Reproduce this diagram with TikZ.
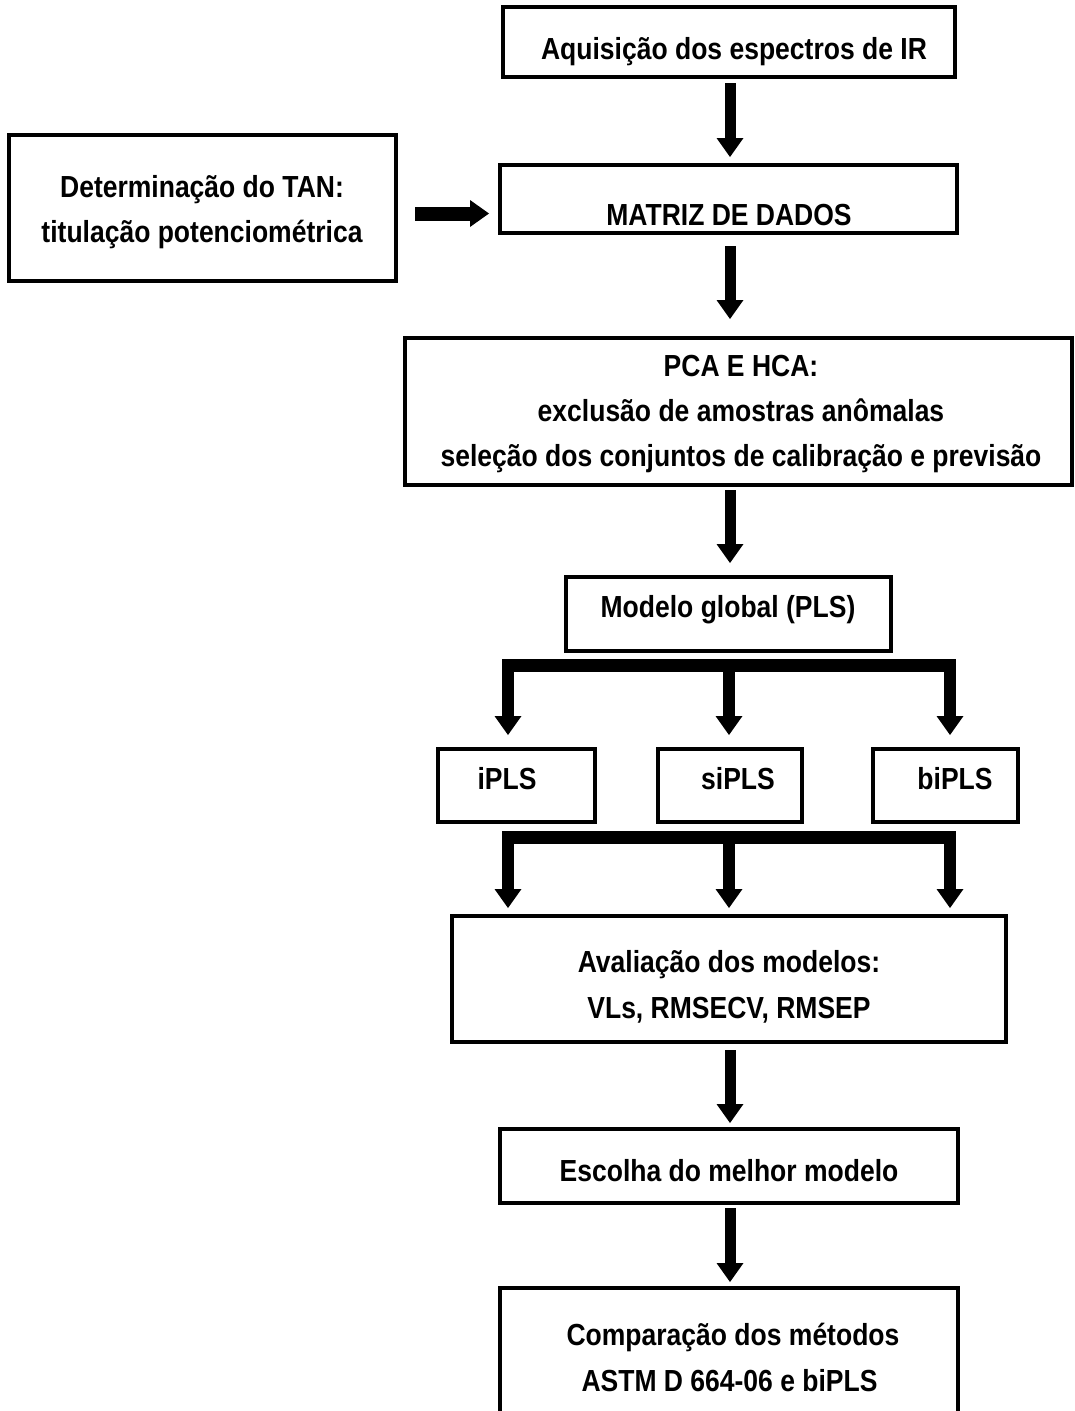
\documentclass[tikz,border=0pt]{standalone}
\usepackage{fontspec}
\setmainfont{Liberation Sans}
\usetikzlibrary{arrows.meta}
\newcommand{\tall}[1]{\scalebox{1}[1.15]{#1}}
\begin{document}
\begin{tikzpicture}[x=1pt,y=-1pt,
  box/.style={draw, line width=3.5pt, inner sep=0pt, outer sep=0pt},
  txt/.style={anchor=base, inner sep=0pt, font=\fontsize{26.5}{32}\selectfont\bfseries},
  tip/.tip={Triangle[width=27pt,length=19pt,line width=0pt]},
  bigarrow/.style={line width=11pt, -tip},
  fork/.style={line width=12.5pt, line join=miter, tip-tip},
  forkmid/.style={line width=12.5pt, -tip},
]
\fill[white] (0,0) rectangle (1075,1411);
\useasboundingbox (0,0) rectangle (1075,1411);

% boxes
\node[box, minimum width=452pt, minimum height=70pt]  (aq)    at (729,42)     {};
\node[box, minimum width=457pt, minimum height=68pt]  (mat)   at (728.5,199)  {};
\node[box, minimum width=387pt, minimum height=146pt] (tan)   at (202.5,208)  {};
\node[box, minimum width=667pt, minimum height=147pt] (pca)   at (738.5,411.5){};
\node[box, minimum width=325pt, minimum height=74pt]  (mod)   at (728.5,614)  {};
\node[box, minimum width=157pt, minimum height=73pt]  (ipls)  at (516.5,785.5){};
\node[box, minimum width=144pt, minimum height=73pt]  (sipls) at (730,785.5)  {};
\node[box, minimum width=145pt, minimum height=73pt]  (bipls) at (945.5,785.5){};
\node[box, minimum width=554pt, minimum height=126pt] (aval)  at (729,979)    {};
\node[box, minimum width=458pt, minimum height=74pt]  (esc)   at (729,1166)   {};
\node[box, minimum width=458pt, minimum height=140pt] (comp)  at (729,1358)   {};

% texts
\node[txt] (aq-t)    at (734,59)    {\tall{Aquisição dos espectros de IR}};
\node[txt] (mat-t)   at (729,225)   {\tall{MATRIZ DE DADOS}};
\node[txt] (tan-t1)  at (202,197)   {\tall{Determinação do TAN:}};
\node[txt] (tan-t2)  at (202,242)   {\tall{titulação potenciométrica}};
\node[txt] (pca-t1)  at (741,376)   {\tall{PCA E HCA:}};
\node[txt] (pca-t2)  at (741,421)   {\tall{exclusão de amostras anômalas}};
\node[txt] (pca-t3)  at (741,466)   {\tall{seleção dos conjuntos de calibração e previsão}};
\node[txt] (mod-t)   at (728,617)   {\tall{Modelo global (PLS)}};
\node[txt] (ipls-t)  at (507,789)   {\tall{iPLS}};
\node[txt] (sipls-t) at (738,789)   {\tall{siPLS}};
\node[txt] (bipls-t) at (955,789)   {\tall{biPLS}};
\node[txt] (aval-t1) at (729,972)   {\tall{Avaliação dos modelos:}};
\node[txt] (aval-t2) at (729,1018)  {\tall{VLs, RMSECV, RMSEP}};
\node[txt] (esc-t)   at (729,1181)  {\tall{Escolha do melhor modelo}};
\node[txt] (comp-t1) at (733,1345)  {\tall{Comparação dos métodos}};
\node[txt] (comp-t2) at (729.5,1391){\tall{ASTM D 664-06 e biPLS}};

% arrow columns
\coordinate (col)  at (730,0);
\coordinate (colL) at (508,0);
\coordinate (colM) at (729,0);
\coordinate (colR) at (950,0);
\coordinate (hy)   at (0,213.5);

% straight arrows
\draw[bigarrow, shorten <=6pt,  shorten >=8pt]  (aq.south -| col)   -- (mat.north -| col);
\draw[bigarrow, shorten <=13pt, shorten >=19pt] (mat.south -| col)  -- (pca.north -| col);
\draw[bigarrow, shorten <=5pt,  shorten >=14pt] (pca.south -| col)  -- (mod.north -| col);
\draw[bigarrow, shorten <=8pt,  shorten >=6pt]  (aval.south -| col) -- (esc.north -| col);
\draw[bigarrow, shorten <=5pt,  shorten >=6pt]  (esc.south -| col)  -- (comp.north -| col);
\draw[bigarrow, line width=14pt, shorten <=19pt, shorten >=11pt] (tan.east |- hy) -- (mat.west |- hy);

% first fork: global model to the three interval models
\path (mod.south) ++(0,14.5) coordinate (bar1);
\path ([yshift=14pt]ipls.north) coordinate (t1);
\draw[fork] (t1 -| colL) |- (bar1 -| colM) -| (t1 -| colR);
\draw[forkmid] (bar1 -| colM) -- (t1 -| colM);

% second fork: interval models to the evaluation
\path (ipls.south) ++(0,15.5) coordinate (bar2);
\path ([yshift=8pt]aval.north) coordinate (t2);
\draw[fork] (t2 -| colL) |- (bar2 -| colM) -| (t2 -| colR);
\draw[forkmid] (bar2 -| colM) -- (t2 -| colM);
\end{tikzpicture}
\end{document}
